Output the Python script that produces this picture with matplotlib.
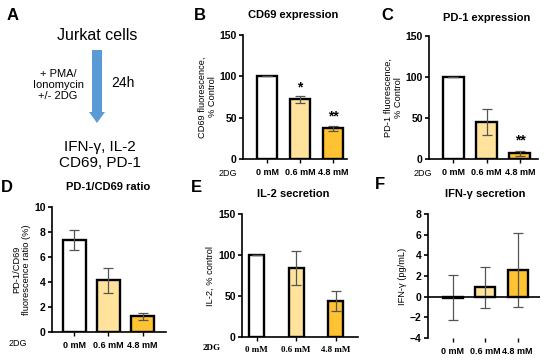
import numpy as np
import matplotlib
matplotlib.use('Agg')
import matplotlib.pyplot as plt
from matplotlib.patches import FancyArrow

plt.rcParams['font.family'] = ['Liberation Sans', 'DejaVu Sans']
plt.rcParams['font.weight'] = 'bold'

# data
doses = ['0 mM', '0.6 mM', '4.8 mM']
cd69 = [100, 72, 37]
cd69_err = [0, 4, 3]
pd1 = [100, 45, 7]
pd1_err = [0, 16, 3]
ratio = [7.4, 4.15, 1.25]
ratio_err = [0.8, 1.0, 0.3]
il2 = [100, 84, 44]
il2_err = [0, 21, 12]
ifng = [-0.1, 0.9, 2.6]
ifng_err = [2.15, 2.0, 3.6]

cols = ['white', '#FFE39C', '#FFC232']
W, H = 550, 360

fig = plt.figure(figsize=(5.5, 3.6), dpi=100)


def px(x, y):
    return x / W, 1 - y / H


def make_ax(l, r, t, b):
    return fig.add_axes([l / W, 1 - b / H, (r - l) / W, (b - t) / H])


def style(ax):
    for s in ['top', 'right']:
        ax.spines[s].set_visible(False)
    for s in ['left', 'bottom']:
        ax.spines[s].set_linewidth(1.2)
    ax.tick_params(axis='y', labelsize=7.5, width=1.2, length=3, pad=1.5)
    ax.tick_params(axis='x', labelsize=6.5, width=1.0, length=3, pad=3.5)


def bars(ax, vals, errs, width):
    x = np.arange(len(vals))
    ax.bar(x, vals, width=width, color=cols, edgecolor='black', linewidth=1.7, zorder=2)
    ax.errorbar(x, vals, yerr=errs, fmt='none', ecolor='#555555', elinewidth=0.9,
                capsize=3.5, capthick=0.9, zorder=3)
    ax.set_xticks(x)
    ax.set_xticklabels(doses)


# ---- A: schematic
fig.text(*px(13, 15), 'A', fontsize=12, fontweight='bold', ha='center', va='center')
fig.text(*px(97, 35), 'Jurkat cells', fontsize=11.5, fontweight='normal', ha='center', va='center')
fig.text(*px(58, 85), '+ PMA/\nIonomycin\n+/- 2DG', fontsize=8, fontweight='normal',
         ha='center', va='center', linespacing=1.15)
fig.text(*px(123, 83), '24h', fontsize=10, fontweight='normal', ha='center', va='center')
fig.text(*px(100, 155), 'IFN-\u03b3, IL-2\nCD69, PD-1', fontsize=11, fontweight='normal',
         ha='center', va='center', linespacing=1.1)
ax0 = fig.add_axes([0, 0, 1, 1])
ax0.set_xlim(0, W)
ax0.set_ylim(H, 0)
ax0.axis('off')
ax0.add_patch(FancyArrow(97, 50, 0, 73, width=10, head_width=16, head_length=11,
                         length_includes_head=True, color='#5B9BD5', lw=0))

# ---- B: CD69
ax = make_ax(243, 347, 35, 159)
bars(ax, cd69, cd69_err, 0.6)
style(ax)
ax.set_xlim(-0.73, 2.42)
ax.set_ylim(0, 150)
ax.set_yticks([0, 50, 100, 150])
ax.set_ylabel('CD69 fluorescence,\n% Control', fontsize=6.7, labelpad=2, linespacing=1.15)
ax.text(1, 86, '*', fontsize=10, ha='center', va='center')
ax.text(2, 51, '**', fontsize=10, ha='center', va='center')
fig.text(*px(200, 15), 'B', fontsize=12, fontweight='bold', ha='center', va='center')
fig.text(*px(293, 15), 'CD69 expression', fontsize=8, ha='center', va='center')
fig.text(*px(228, 173), '2DG', fontsize=6.5, fontweight='normal', ha='center', va='center')

# ---- C: PD-1
ax = make_ax(429, 538, 36, 159)
bars(ax, pd1, pd1_err, 0.63)
style(ax)
ax.set_xlim(-0.72, 2.54)
ax.set_ylim(0, 150)
ax.set_yticks([0, 50, 100, 150])
ax.set_ylabel('PD-1 fluorescence,\n% Control', fontsize=6.7, labelpad=2, linespacing=1.15)
ax.text(2, 23, '**', fontsize=10, ha='center', va='center')
fig.text(*px(387, 15), 'C', fontsize=12, fontweight='bold', ha='center', va='center')
fig.text(*px(487, 18), 'PD-1 expression', fontsize=8, ha='center', va='center')
fig.text(*px(423, 173), '2DG', fontsize=6.5, fontweight='normal', ha='center', va='center')

# ---- D: ratio
ax = make_ax(52, 166, 207, 332)
bars(ax, ratio, ratio_err, 0.65)
style(ax)
ax.set_xlim(-0.66, 2.69)
ax.set_ylim(0, 10)
ax.set_yticks([0, 2, 4, 6, 8, 10])
ax.set_ylabel('PD-1/CD69\nfluorescence ratio (%)', fontsize=6.7, labelpad=2, linespacing=1.15)
fig.text(*px(7, 187), 'D', fontsize=12, fontweight='bold', ha='center', va='center')
fig.text(*px(108, 187), 'PD-1/CD69 ratio', fontsize=8, ha='center', va='center')
fig.text(*px(18, 343), '2DG', fontsize=6.5, fontweight='normal', ha='center', va='center')

# ---- E: IL-2
ax = make_ax(242, 358, 214, 337)
bars(ax, il2, il2_err, 0.38)
style(ax)
ax.set_xlim(-0.37, 2.57)
ax.set_ylim(0, 150)
ax.set_yticks([0, 50, 100, 150])
ax.set_ylabel('IL-2, % control', fontsize=6.7, labelpad=3)
for lab in ax.get_xticklabels():
    lab.set_family('Liberation Serif')
fig.text(*px(196, 187), 'E', fontsize=12, fontweight='bold', ha='center', va='center')
fig.text(*px(293, 194), 'IL-2 secretion', fontsize=8, ha='center', va='center')
fig.text(*px(212, 348), '2DG', fontsize=6.5, family='Liberation Serif', ha='center', va='center')

# ---- F: IFN-g
ax = make_ax(428, 540, 214, 338)
bars(ax, ifng, ifng_err, 0.62)
style(ax)
ax.spines['bottom'].set_visible(False)
ax.axhline(0, color='black', lw=1.2, zorder=4)
ax.set_xlim(-0.77, 2.69)
ax.set_ylim(-4, 8)
ax.set_yticks([-4, -2, 0, 2, 4, 6, 8])
ax.set_ylabel('IFN-\u03b3 (pg/mL)', fontsize=6.7, labelpad=2)
fig.text(*px(380, 185), 'F', fontsize=12, fontweight='bold', ha='center', va='center')
fig.text(*px(485, 194), 'IFN-\u03b3 secretion', fontsize=8, ha='center', va='center')

fig.savefig('out.png', dpi=100)
